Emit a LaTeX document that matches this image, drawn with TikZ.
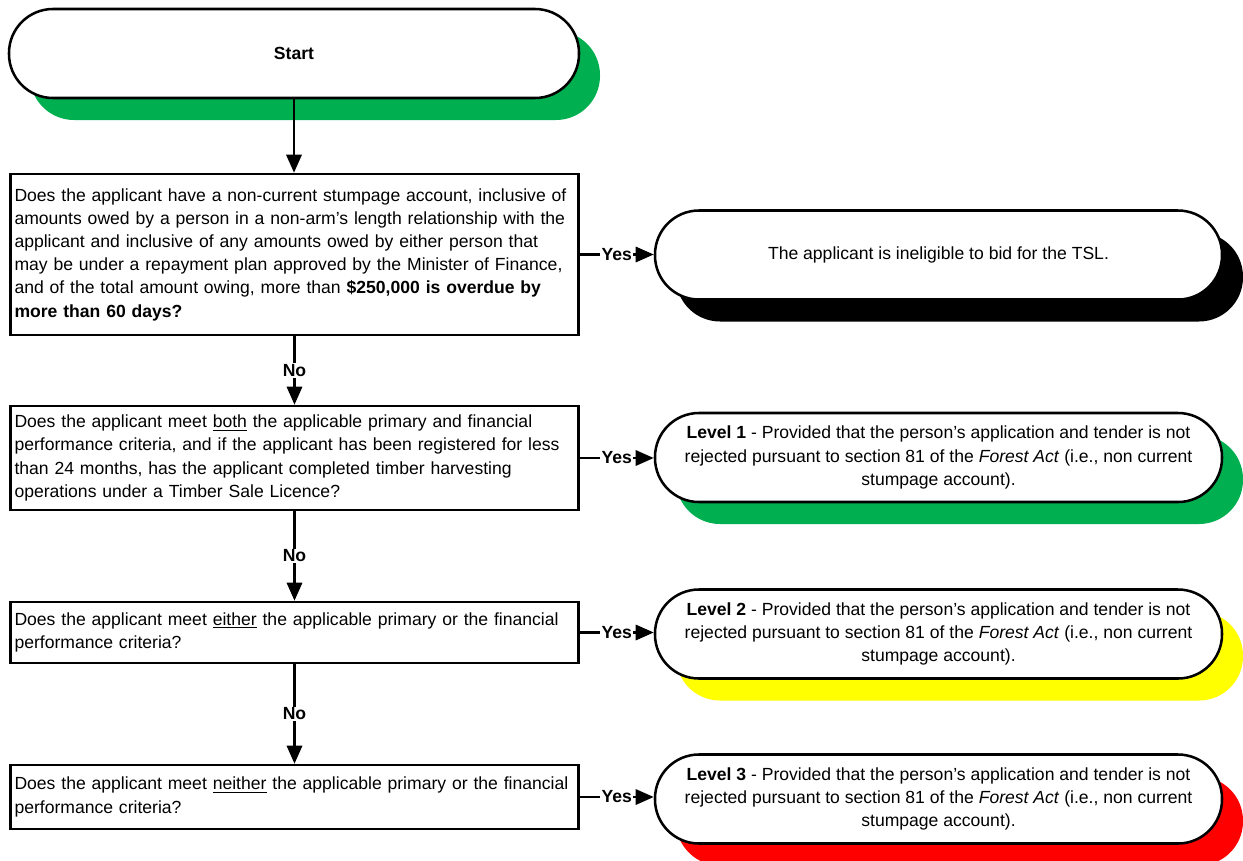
\documentclass[tikz,border=0pt]{standalone}
\usepackage{fontspec}
\setmainfont{Liberation Sans}
\usetikzlibrary{arrows.meta,shadows}
\definecolor{lvlgreen}{HTML}{00B050}
\definecolor{lvlyellow}{HTML}{FFFF00}
\definecolor{lvlred}{HTML}{FF0000}
\tikzset{
  question/.style={draw, line width=1.8pt, fill=white, align=left, text width=14.0cm,
    inner xsep=0.1cm, font=\fontsize{12.5}{16.5}\selectfont},
  terminal/.style={draw, line width=1.8pt, fill=white, rounded corners=1.1cm,
    minimum width=14.175cm, minimum height=2.225cm, align=center,
    font=\fontsize{12.5}{16.5}\selectfont,
    drop shadow={shadow xshift=0.525cm, shadow yshift=-0.55cm, fill=#1, opacity=1}},
  flow/.style={line width=1.8pt, -{Triangle[length=0.45cm,width=0.38cm]}},
  answer/.style={fill=white, inner sep=0.8pt, font=\bfseries\fontsize{12.5}{14}\selectfont}
}
\begin{document}
\begin{tikzpicture}
\useasboundingbox (0,0) rectangle (31.075,-21.525);
% left column: start and the four questions
\node[terminal=lvlgreen, minimum width=14.25cm] (start) at (7.35,-1.3375) {\textbf{Start}};
\node[question, minimum height=4.025cm] (q1) at (7.3625,-6.3625)
  {Does the applicant have a non-current stumpage account, inclusive of\\
   amounts owed by a person in a non-arm’s length relationship with the\\
   applicant and inclusive of any amounts owed by either person that\\
   may be under a repayment plan approved by the Minister of Finance,\\
   and of the total amount owing, more than \textbf{\$250,000 is overdue by}\\
   \textbf{more than 60 days?}};
\node[question, minimum height=2.6cm] (q2) at (7.3625,-11.45)
  {Does the applicant meet \underline{both} the applicable primary and financial\\
   performance criteria, and if the applicant has been registered for less\\
   than 24 months, has the applicant completed timber harvesting\\
   operations under a Timber Sale Licence?};
\node[question, minimum height=1.525cm] (q3) at (7.3625,-15.8125)
  {Does the applicant meet \underline{either} the applicable primary or the financial\\
   performance criteria?};
\node[question, minimum height=1.6cm] (q4) at (7.3625,-19.925)
  {Does the applicant meet \underline{neither} the applicable primary or the financial\\
   performance criteria?};
% right column: outcomes
\node[terminal=black] (endn) at (23.4625,-6.375)
  {The applicant is ineligible to bid for the TSL.};
\node[terminal=lvlgreen] (lvl1) at (23.4625,-11.4375)
  {\textbf{Level 1} - Provided that the person’s application and tender is not\\
   rejected pursuant to section 81 of the \textit{Forest Act} (i.e., non current\\
   stumpage account).};
\node[terminal=lvlyellow] (lvl2) at (23.4625,-15.85)
  {\textbf{Level 2} - Provided that the person’s application and tender is not\\
   rejected pursuant to section 81 of the \textit{Forest Act} (i.e., non current\\
   stumpage account).};
\node[terminal=lvlred] (lvl3) at (23.4625,-19.975)
  {\textbf{Level 3} - Provided that the person’s application and tender is not\\
   rejected pursuant to section 81 of the \textit{Forest Act} (i.e., non current\\
   stumpage account).};
% connectors
\draw[flow] (start.south) -- (start.south |- q1.north);
\draw[flow] (q1.south) -- node[answer]{No} (q2.north);
\draw[flow] (q2.south) -- node[answer]{No} (q3.north);
\draw[flow] (q3.south) -- node[answer]{No} (q4.north);
\draw[flow] (q1.east) -- node[answer]{Yes} (q1.east -| endn.west);
\draw[flow] (q2.east) -- node[answer]{Yes} (q2.east -| lvl1.west);
\draw[flow] (q3.east) -- node[answer]{Yes} (q3.east -| lvl2.west);
\draw[flow] (q4.east) -- node[answer]{Yes} (q4.east -| lvl3.west);
\end{tikzpicture}
\end{document}
